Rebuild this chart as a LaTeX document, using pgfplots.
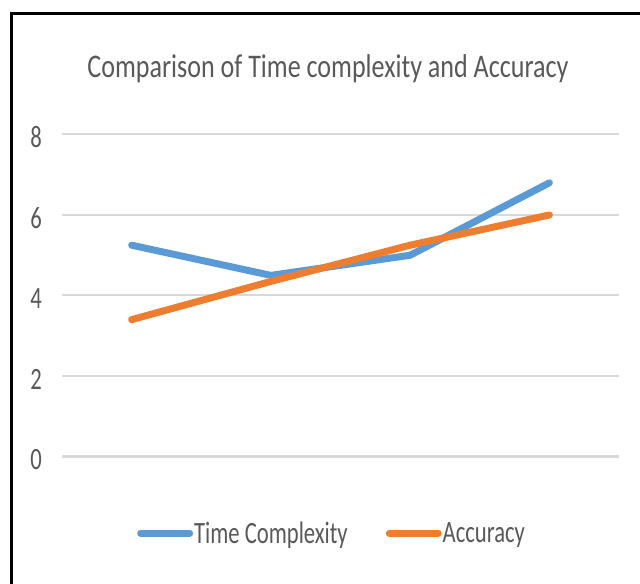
\documentclass[border=0pt]{standalone}
\usepackage{pgfplots}
\pgfplotsset{compat=1.18}
\usepackage{fontspec}
\setmainfont{Carlito}[FakeStretch=0.73]
\newfontfamily\titlefont{Carlito}[FakeStretch=0.79]
\definecolor{tcblue}{HTML}{5B9BD5}
\definecolor{acorange}{HTML}{ED7D31}
\definecolor{txtgray}{HTML}{595959}
\definecolor{gridgray}{HTML}{D9D9D9}
\newcommand{\chartfont}{\fontsize{31bp}{37bp}\selectfont}
\begin{document}
\begin{tikzpicture}
\useasboundingbox (0,0) rectangle (640bp,584bp);
\fill[white] (0,0) rectangle (640bp,584bp);
% frame of the screenshot
\draw[black, line width=3bp] (11.3bp,0bp) -- (11.3bp,570.3bp) -- (640bp,570.3bp);
\node[anchor=base, text=txtgray, inner sep=0pt, font=\titlefont\fontsize{33bp}{40bp}\selectfont] at (328bp,506bp) {Comparison of Time complexity and Accuracy};
\begin{axis}[
  at={(62bp,127.5bp)}, anchor=south west,
  scale only axis, width=557bp, height=322bp,
  xmin=0.5, xmax=4.5, ymin=0, ymax=8,
  xtick=\empty, ytick={0,2,4,6,8},
  ymajorgrids, grid style={color=gridgray, line width=2bp},
  axis line style={draw=none}, major tick length=0pt,
  clip=false,
  /pgf/number format/assume math mode=true,
  yticklabel style={anchor=east, inner sep=0pt, xshift=-20bp, yshift=-3bp, text=txtgray, font=\chartfont},
  legend columns=2,
  legend style={at={(axis description cs:0.1346,-0.2376)}, anchor=west, draw=none, fill=none,
    inner sep=0pt, font=\chartfont, text=txtgray,
    /tikz/every even column/.append style={column sep=37bp},
    nodes={inner sep=1bp}},
  legend image code/.code={\draw[#1, line cap=round, line width=7bp] (3.5bp,0bp) -- (52.5bp,0bp);},
]
\addplot[tcblue, line width=7bp, line cap=round, line join=round] coordinates {(1,5.25) (2,4.5) (3,5.0) (4,6.8)};
\addlegendentry{Time Complexity}
\addplot[acorange, line width=7bp, line cap=round, line join=round] coordinates {(1,3.4) (2,4.35) (3,5.25) (4,6.0)};
\addlegendentry{Accuracy}
\end{axis}
\end{tikzpicture}
\end{document}
